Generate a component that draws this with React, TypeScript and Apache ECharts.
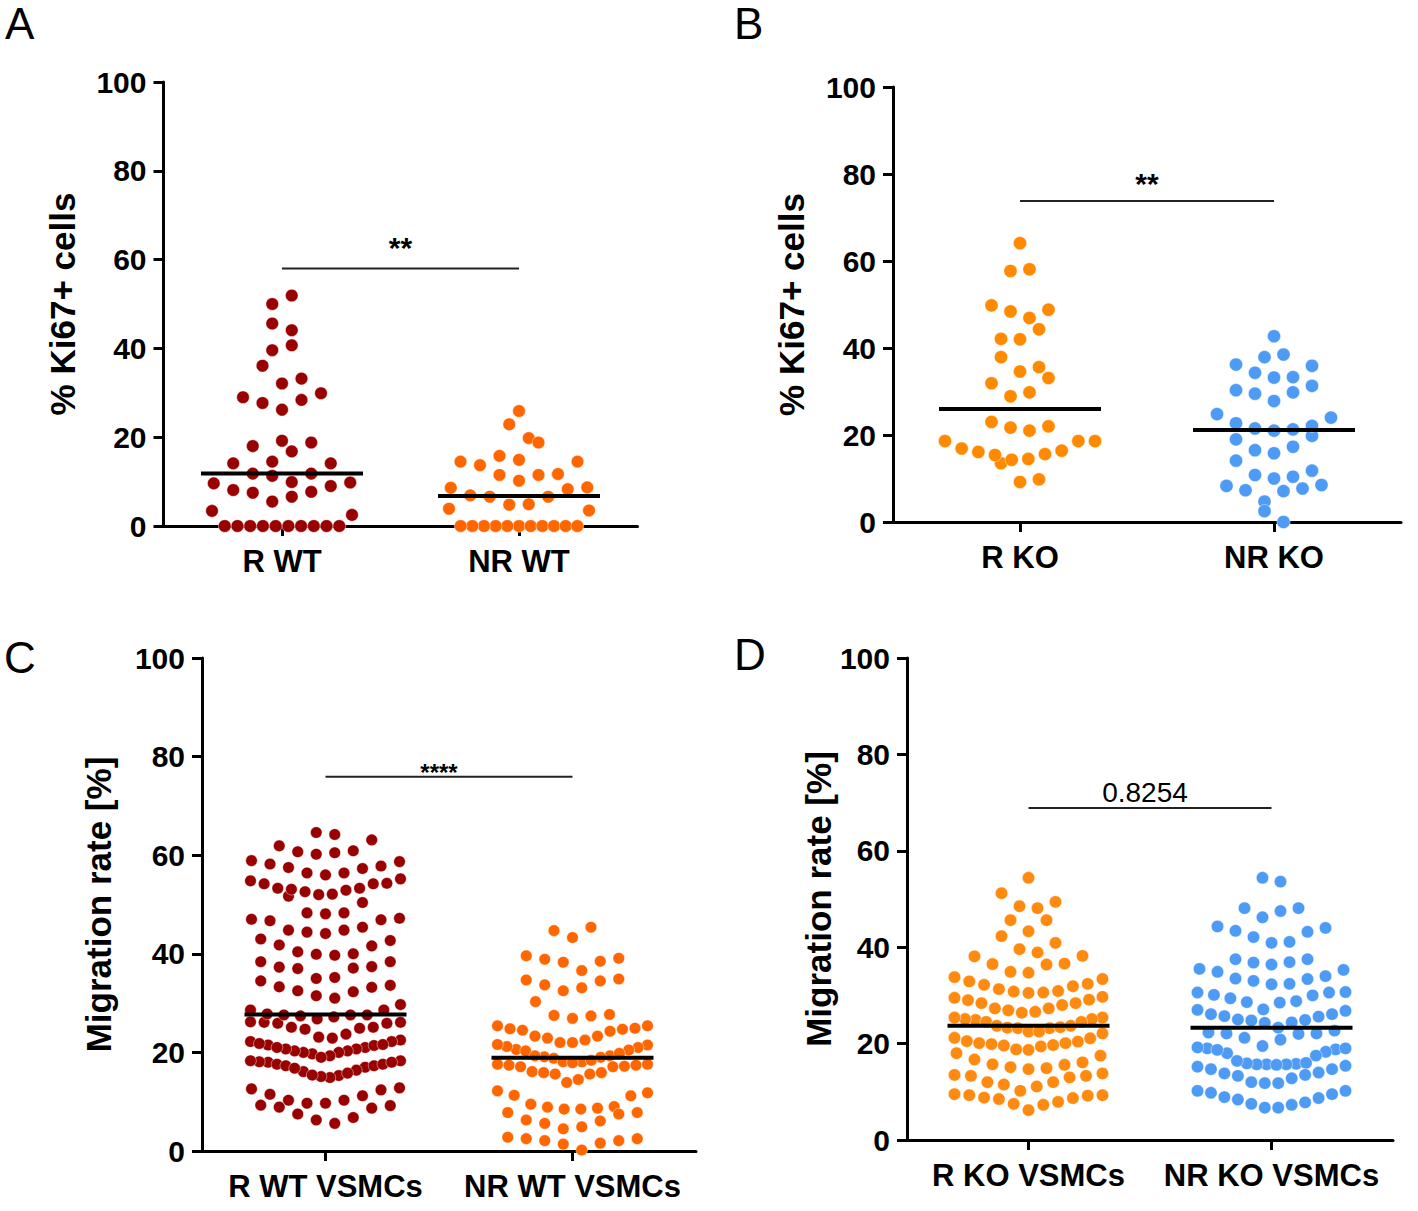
import React, { useEffect, useRef } from 'react';
import * as echarts from 'echarts';

const FONT = '"Liberation Sans", Arial, Helvetica, sans-serif';

// ---------------- data ----------------
const A_CATEGORIES = ['R WT', 'NR WT'];
const A_R_WT = [51.9, 50.0, 44.1, 45.6, 39.6, 40.7, 36.1, 33.2, 32.1, 29.9, 28.4, 26.2, 27.7, 29.0, 19.2, 18.0, 16.8, 18.8, 14.1, 14.1, 14.5, 11.8, 11.3, 11.8, 9.8, 9.0, 7.7, 6.6, 5.5, 7.5, 8.1, 9.6, 9.9, 2.5, 3.4, 0, 0, 0, 0, 0, 0, 0, 0, 0, 0];
const A_NR_WT = [25.9, 22.9, 19.8, 18.8, 14.5, 13.7, 15.8, 14.9, 14.5, 11.5, 10.2, 11.5, 11.7, 8.7, 8.3, 6.6, 4.9, 4.8, 6.6, 6.9, 8.6, 3.9, 3.5, 0, 0, 0, 0, 0, 0, 0, 0, 0, 0, 0];

const B_CATEGORIES = ['R KO', 'NR KO'];
const B_R_KO = [64.1, 58.1, 57.7, 48.8, 46.9, 48.4, 49.8, 44.3, 42.1, 42.0, 37.9, 34.6, 35.6, 33.1, 31.9, 29.8, 28.9, 22.0, 21.0, 21.7, 23.0, 18.6, 18.6, 16.4, 15.6, 13.5, 14.5, 14.3, 15.4, 16.1, 16.9, 18.6, 9.2, 9.8];
const B_NR_KO = [42.7, 38.5, 37.9, 36.2, 34.3, 33.3, 33.2, 31.3, 35.9, 30.3, 29.5, 27.8, 29.8, 24.8, 22.7, 21.5, 21.0, 21.3, 19.8, 22.1, 24.0, 19.0, 16.5, 15.8, 17.3, 14.1, 10.8, 10.0, 10.4, 11.8, 8.5, 7.7, 7.1, 7.3, 8.3, 4.7, 2.5, 0];

const C_CATEGORIES = ['R WT VSMCs', 'NR WT VSMCs'];
const C_R_WT = [
  63.1, 64.2, 64.6, 61.9,
  60.9, 60.5, 60.2, 60.7,
  58.9, 58.2, 57.5, 56.4, 56.0, 56.4, 57.3, 57.8, 58.7,
  54.8, 54.2, 53.3, 51.7, 52.9, 52.6, 52.1, 53.1, 53.3, 50.4, 54.3, 52.0, 54.2, 55.2,
  47.0, 46.7, 48.3, 48.1, 48.3, 44.8, 44.4, 44.1, 44.8, 45.4, 46.9, 47.2,
  42.7, 41.6, 40.0, 39.7, 39.9, 40.4, 41.8, 43.0,
  38.4, 37.4, 37.1, 35.2, 35.0, 37.0, 37.3, 38.4,
  33.6, 33.2, 32.3, 31.0, 31.5, 32.5, 33.3, 34.5,
  29.7, 28.6, 26.1, 25.9, 25.1, 27.6, 24.7, 27.4, 23.7, 26.8, 22.9, 23.1, 22.5, 27.2, 24.9, 27.6, 25.1, 27.6, 25.9, 26.1, 27.8, 26.2, 28.6,
  22.2, 21.5, 21.0, 20.7, 20.3, 20.0, 19.3, 19.7, 20.0, 20.3, 20.7, 21.0, 21.4, 21.6, 22.2, 21.8, 19.0,
  18.3, 18.0, 17.6, 17.3, 17.0, 16.1, 15.3, 14.9, 15.1, 15.4, 16.4, 17.3, 17.6, 18.0, 18.1, 18.3, 16.8, 15.8,
  12.6, 11.5, 10.3, 9.7, 9.7, 10.3, 11.2, 12.4, 12.8,
  9.2, 8.7, 6.8, 5.6, 6.3, 7.5, 8.9, 9.3,
];
const C_NR_WT = [
  45.4, 43.3, 44.7,
  38.3, 39.6, 38.9, 38.5, 39.1, 36.6,
  33.7, 34.9, 32.5, 34.5, 34.7, 33.1,
  30.3,
  27.7, 27.4, 25.4, 24.9, 24.7, 24.3, 24.5, 24.8, 25.4, 26.9, 27.5,
  23.3, 22.5, 22.0, 21.5, 21.0, 20.5, 20.6, 20.3, 21.2, 21.6, 22.0, 22.9, 23.3,
  19.3, 19.1, 18.8, 18.1, 17.6, 17.4, 17.1, 17.1, 17.2, 17.4, 17.6, 18.1, 19.0, 19.3, 19.8, 18.4, 17.9,
  16.1, 15.9, 15.6, 13.9, 12.2, 14.5, 15.6, 15.9,
  11.8, 11.2, 9.0, 8.7, 8.5, 8.5, 8.9, 9.5, 11.3,
  7.8, 7.5, 6.1, 4.9, 4.5, 5.6, 6.3, 7.8,
  2.5, 2.1, 1.6, 0.2, 1.4, 2.1, 2.5, 2.8,
];

const D_CATEGORIES = ['R KO VSMCs', 'NR KO VSMCs'];
const D_R_KO = [
  54.4, 51.2, 48.5, 49.4, 48.1, 45.6, 45.6, 43.3, 42.3, 40.9,
  38.9, 38.1, 36.5, 36.4, 36.6, 38.2, 39.6,
  34.9, 33.8, 32.9, 32.2, 30.9, 31.3, 30.8, 31.9, 32.4, 33.4, 34.7,
  30.6, 29.7, 29.0, 28.4, 28.0, 27.3, 26.9, 27.3, 28.4, 29.1, 29.5, 30.5,
  26.6, 25.4, 25.1, 24.9, 24.5, 23.7, 23.3, 23.2, 23.2, 23.4, 23.7, 24.5, 25.1, 25.4, 26.4,
  22.5, 21.2, 20.5, 20.1, 19.9, 19.6, 18.8, 18.7, 19.4, 19.7, 20.1, 20.4, 21.1, 22.1, 22.5,
  18.0, 16.7, 15.7, 15.1, 14.7, 14.9, 15.6, 16.1, 17.5,
  13.8, 13.3, 13.0, 12.0, 11.1, 10.2, 11.5, 12.0, 13.3, 13.5,
  9.3, 8.8, 8.5, 7.5, 9.3, 6.2, 7.3, 7.9, 8.7, 9.2, 9.5,
];
const D_NR_KO = [
  53.6, 54.4, 48.1, 47.5, 46.2, 48.1,
  44.3, 43.4, 42.1, 40.9, 41.1, 43.2, 44.0,
  37.5, 36.9, 36.8, 37.5, 35.5, 34.9, 35.3, 36.4,
  32.4, 33.4, 33.0, 33.5, 34.0, 32.3,
  30.7, 30.6, 30.0, 28.8, 28.6, 29.4, 30.1, 30.6,
  28.5, 27.0, 26.1, 25.7, 25.0, 24.8, 24.9, 25.6, 26.1, 26.8, 27.1,
  24.4, 23.3, 22.3, 22.1, 21.2, 20.8, 22.0, 22.1, 22.7, 24.3,
  19.5, 19.0, 18.8, 18.3, 17.5, 15.8, 15.7, 15.7, 15.7, 15.9, 16.4, 18.0, 18.7, 19.0, 19.2, 15.6, 16.0,
  15.4, 14.7, 14.0, 13.5, 12.8, 11.8, 11.8, 12.0, 13.3, 13.8, 14.7, 15.2,
  10.2, 10.2, 9.5, 8.7, 7.8, 7.3, 6.7, 6.7, 7.5, 8.4, 8.9, 9.8,
];

const Y_MIN = 0;
const Y_MAX = 100;
const Y_INTERVAL = 20;
const Y_TITLES = ['% Ki67+ cells', '% Ki67+ cells', 'Migration rate [%]', 'Migration rate [%]'];
const PANEL_LETTERS = ['A', 'B', 'C', 'D'];
const SIG_LABELS = ['**', '**', '****', '0.8254'];
const SIG_LEVELS = [58.0, 73.8, 75.9, 68.9];

// ---------------- layout / style ----------------
const PANELS = [
  {
    grid: { left: 163.5, top: 82, width: 474, height: 444 },
    cats: A_CATEGORIES, groups: [A_R_WT, A_NR_WT], colors: ['#990000', '#FF6600'],
    r: 6.3, step: 19.5, maxW: 140, nameGap: 84,
    sig: { fontSize: 30, bold: true, dy: -6, dx: 0 },
    letter: { left: 5, top: 1 },
  },
  {
    grid: { left: 893, top: 87, width: 508, height: 435 },
    cats: B_CATEGORIES, groups: [B_R_KO, B_NR_KO], colors: ['#FF8A00', '#4D9BF5'],
    r: 6.6, step: 19, maxW: 150, nameGap: 84,
    sig: { fontSize: 30, bold: true, dy: -2, dx: 0 },
    letter: { left: 734, top: 1 },
  },
  {
    grid: { left: 202, top: 658, width: 494, height: 493 },
    cats: C_CATEGORIES, groups: [C_R_WT, C_NR_WT], colors: ['#990000', '#FF6600'],
    r: 5.8, step: 18.5, maxW: 150, nameGap: 86,
    sig: { fontSize: 24, bold: true, dy: 8, dx: -10 },
    letter: { left: 4, top: 635 },
  },
  {
    grid: { left: 907, top: 658, width: 486, height: 482 },
    cats: D_CATEGORIES, groups: [D_R_KO, D_NR_KO], colors: ['#FF8A10', '#4D9BF5'],
    r: 6.2, step: 18, maxW: 148, nameGap: 60,
    sig: { fontSize: 28, bold: false, dy: -1, dx: -5 },
    letter: { left: 734, top: 632 },
  },
];

const MEDIAN_HALF = 81;

function median(vals: number[]): number {
  const s = [...vals].sort((a, b) => a - b);
  const n = s.length;
  return n % 2 ? s[(n - 1) / 2] : (s[n / 2 - 1] + s[n / 2]) / 2;
}

// Prism-like row layout: bin points into rows, lowest value in centre, alternate outward
function rowOffsets(pys: number[], step: number, maxW: number): number[] {
  const n = pys.length;
  const order = pys.map((_, i) => i).sort((a, b) => pys[b] - pys[a]);
  const out: number[] = new Array(n).fill(0);
  let rowIdx = 0;
  let i = 0;
  while (i < n) {
    const start = pys[order[i]];
    const row: number[] = [];
    while (i < n && start - pys[order[i]] < step - 0.01) {
      row.push(order[i]);
      i++;
    }
    const m = row.length;
    const sp = m > 1 ? Math.min(step, maxW / (m - 1)) : step;
    const sgn = rowIdx % 2 === 0 ? 1 : -1;
    row.forEach((idx, k) => {
      let slot: number;
      if (m % 2 === 1) {
        slot = k === 0 ? 0 : Math.ceil(k / 2) * (k % 2 === 1 ? 1 : -1);
      } else {
        slot = (Math.floor(k / 2) + 0.5) * (k % 2 === 0 ? 1 : -1);
      }
      out[idx] = slot * sp * sgn;
    });
    rowIdx++;
  }
  return out;
}

function buildOption() {
  const grids: any[] = [];
  const xAxes: any[] = [];
  const yAxes: any[] = [];
  const series: any[] = [];
  const graphics: any[] = [];

  PANELS.forEach((p, gi) => {
    grids.push({ ...p.grid, containLabel: false });
    xAxes.push({
      type: 'category',
      gridIndex: gi,
      data: p.cats,
      boundaryGap: true,
      axisLine: { show: true, lineStyle: { color: '#000', width: 3 } },
      axisTick: { show: true, alignWithLabel: true, interval: 0, length: 10, lineStyle: { color: '#000', width: 3 } },
      axisLabel: { interval: 0, hideOverlap: false, color: '#000', fontSize: 31, fontWeight: 'bold', fontFamily: FONT, margin: 20 },
      splitLine: { show: false },
    });
    yAxes.push({
      type: 'value',
      gridIndex: gi,
      min: Y_MIN,
      max: Y_MAX,
      interval: Y_INTERVAL,
      axisLine: { show: true, lineStyle: { color: '#000', width: 3 } },
      axisTick: { show: true, length: 10, lineStyle: { color: '#000', width: 3 } },
      axisLabel: { color: '#000', fontSize: 30, fontWeight: 'bold', fontFamily: FONT, margin: 17 },
      splitLine: { show: false },
      name: Y_TITLES[gi],
      nameLocation: 'middle',
      nameRotate: 90,
      nameGap: p.nameGap,
      nameTextStyle: { color: '#000', fontSize: 35, fontWeight: 'bold', fontFamily: FONT },
    });

    p.groups.forEach((vals, cat) => {
      let cache: number[] | null = null;
      series.push({
        type: 'custom',
        xAxisIndex: gi,
        yAxisIndex: gi,
        silent: true,
        z: 2,
        data: vals.map((v) => [cat, v]),
        encode: { x: 0, y: 1 },
        renderItem: (params: any, api: any) => {
          if (params.dataIndexInside === 0 || !cache) {
            const pys = vals.map((v) => api.coord([cat, v])[1]);
            cache = rowOffsets(pys, p.step, p.maxW);
          }
          const pt = api.coord([cat, vals[params.dataIndex]]);
          return {
            type: 'circle',
            shape: { cx: pt[0] + cache[params.dataIndex], cy: pt[1], r: p.r },
            style: { fill: p.colors[cat], stroke: 'rgba(255,255,255,0.55)', lineWidth: 0.8 },
          };
        },
      });
      const med = median(vals);
      series.push({
        type: 'custom',
        xAxisIndex: gi,
        yAxisIndex: gi,
        silent: true,
        z: 5,
        data: [[cat, med]],
        encode: { x: 0, y: 1 },
        renderItem: (params: any, api: any) => {
          const pt = api.coord([cat, med]);
          return {
            type: 'line',
            shape: { x1: pt[0] - MEDIAN_HALF, y1: pt[1], x2: pt[0] + MEDIAN_HALF, y2: pt[1] },
            style: { stroke: '#000', lineWidth: 4 },
          };
        },
      });
    });

    const level = SIG_LEVELS[gi];
    const label = SIG_LABELS[gi];
    series.push({
      type: 'custom',
      xAxisIndex: gi,
      yAxisIndex: gi,
      silent: true,
      z: 6,
      data: [[0, level]],
      encode: { x: 0, y: 1 },
      renderItem: (params: any, api: any) => {
        const a = api.coord([0, level]);
        const b = api.coord([1, level]);
        return {
          type: 'group',
          children: [
            {
              type: 'line',
              shape: { x1: a[0], y1: a[1], x2: b[0], y2: b[1] },
              style: { stroke: '#222', lineWidth: 2 },
            },
            {
              type: 'text',
              x: (a[0] + b[0]) / 2 + p.sig.dx,
              y: a[1] + p.sig.dy,
              style: {
                text: label,
                fill: '#000',
                fontSize: p.sig.fontSize,
                fontWeight: p.sig.bold ? 'bold' : 'normal',
                fontFamily: FONT,
                align: 'center',
                verticalAlign: 'bottom',
              },
            },
          ],
        };
      },
    });

    graphics.push({
      type: 'text',
      left: p.letter.left,
      top: p.letter.top,
      style: { text: PANEL_LETTERS[gi], fill: '#000', fontSize: 44, fontFamily: FONT },
    });
  });

  return {
    animation: false,
    backgroundColor: '#ffffff',
    grid: grids,
    xAxis: xAxes,
    yAxis: yAxes,
    series,
    graphic: graphics,
  };
}

export default function App() {
  const ref = useRef<HTMLDivElement>(null);
  useEffect(() => {
    if (!ref.current) return;
    const chart = echarts.init(ref.current, undefined, { renderer: 'svg' });
    chart.setOption(buildOption() as any);
    return () => chart.dispose();
  }, []);
  return (
    <div
      ref={ref}
      style={{ position: 'absolute', left: 0, top: 0, width: 1418, height: 1211, background: '#fff' }}
    />
  );
}
